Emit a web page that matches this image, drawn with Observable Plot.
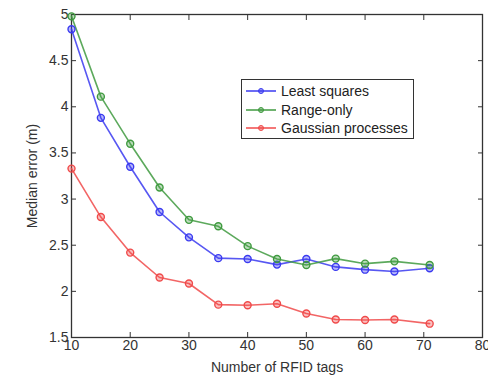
<!DOCTYPE html>
<html>
<head>
<meta charset="utf-8">
<script src="https://cdn.jsdelivr.net/npm/d3@7"></script>
<script src="https://cdn.jsdelivr.net/npm/@observablehq/plot@0.6"></script>
<style>
  html, body { margin: 0; padding: 0; background: #fff; }
  #wrap { position: relative; width: 488px; height: 375px; font-family: "Liberation Sans", Arial, sans-serif; }
  #legend { position: absolute; left: 241px; top: 79px; width: 173px; height: 60px; border: 1.3px solid #333; background: #fff; box-sizing: border-box; font-size: 14px; color: #222; }
  .row { position: absolute; left: 0; height: 18px; display: flex; align-items: center; }
  .row svg { margin-left: 3px; margin-right: 4px; }
</style>
</head>
<body>
<div id="wrap"></div>
<script>
const tags = [10, 15, 20, 25, 30, 35, 40, 45, 50, 55, 60, 65, 71];
const leastSquares = [4.84, 3.88, 3.35, 2.86, 2.585, 2.36, 2.35, 2.29, 2.35, 2.265, 2.235, 2.215, 2.25];
const rangeOnly = [4.98, 4.11, 3.60, 3.125, 2.775, 2.705, 2.49, 2.35, 2.285, 2.355, 2.30, 2.325, 2.285];
const gaussian = [3.33, 2.805, 2.42, 2.15, 2.085, 1.856, 1.85, 1.865, 1.76, 1.695, 1.69, 1.695, 1.65];
const seriesNames = ["Least squares", "Range-only", "Gaussian processes"];
const seriesColors = ["#3a3af0", "#3f9a3f", "#f04a4a"];
const xTicks = [10, 20, 30, 40, 50, 60, 70, 80];
const yTicks = [1.5, 2, 2.5, 3, 3.5, 4, 4.5, 5];

const seriesValues = [leastSquares, rangeOnly, gaussian];
const data = seriesNames.flatMap((name, i) => tags.map((t, j) => ({series: name, x: t, y: seriesValues[i][j]})));

const blank = () => "";
const chart = Plot.plot({
  width: 488,
  height: 375,
  marginLeft: 71,
  marginRight: 6,
  marginTop: 14,
  marginBottom: 38,
  style: {fontFamily: "'Liberation Sans', Arial, sans-serif", fontSize: "14px", color: "#333", background: "#fff"},
  x: {domain: [10, 80]},
  y: {domain: [1.5, 5]},
  color: {domain: seriesNames, range: seriesColors},
  marks: [
    Plot.frame({stroke: "#333", strokeWidth: 1.3}),
    Plot.axisX({anchor: "bottom", ticks: xTicks, tickSize: -5, tickPadding: 8, tickFormat: d => String(d), label: "Number of RFID tags", labelAnchor: "center", labelArrow: "none", labelOffset: 34, stroke: "#333"}),
    Plot.axisX({anchor: "top", ticks: xTicks, tickSize: -5, tickFormat: blank, label: null, stroke: "#333"}),
    Plot.axisY({anchor: "left", ticks: yTicks, tickSize: -5, tickPadding: 8, tickFormat: d => String(d), label: "Median error (m)", labelAnchor: "center", labelOffset: 44, labelArrow: "none", stroke: "#333"}),
    Plot.axisY({anchor: "right", ticks: yTicks, tickSize: -5, tickFormat: blank, label: null, stroke: "#333"}),
    Plot.line(data, {x: "x", y: "y", z: "series", stroke: "series", strokeWidth: 1.6, strokeOpacity: 0.85}),
    Plot.dot(data, {x: "x", y: "y", stroke: "series", fill: "series", fillOpacity: 0.35, r: 3.5, strokeWidth: 1.4})
  ]
});
const wrap = document.getElementById("wrap");
wrap.appendChild(chart);

const legend = document.createElement("div");
legend.id = "legend";
seriesNames.forEach((name, i) => {
  const row = document.createElement("div");
  row.className = "row";
  row.style.top = (2 + i * 18.5) + "px";
  const c = seriesColors[i];
  row.innerHTML = `<svg width="32" height="10"><line x1="1" y1="5" x2="31" y2="5" stroke="${c}" stroke-width="1.5"/><circle cx="16" cy="5" r="2.5" fill="${c}" fill-opacity="0.5" stroke="${c}"/></svg><span>${name}</span>`;
  legend.appendChild(row);
});
wrap.appendChild(legend);
</script>
</body>
</html>
